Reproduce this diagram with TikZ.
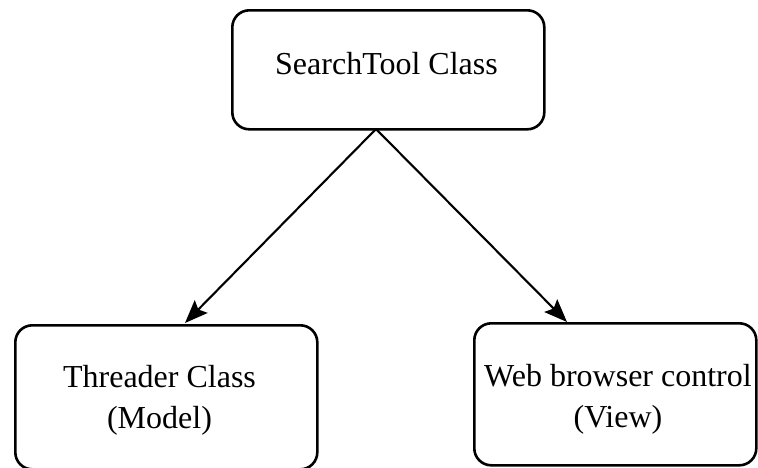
\documentclass[tikz,border=0pt]{standalone}
\usepackage{fontspec}
\setmainfont{Liberation Serif}
\usetikzlibrary{arrows.meta}
\begin{document}
\begin{tikzpicture}[x=1pt,y=-1pt,
  boxnode/.style={draw=black, line width=2.6pt, rounded corners=17pt,
    inner sep=0pt, anchor=north west},
  txt/.style={align=center, font={\fontsize{32}{41}\selectfont}, inner sep=0pt},
  conn/.style={draw=black, line width=2.1pt, -{Stealth[length=23pt,width=18pt,inset=4pt]}}]
\useasboundingbox (0,0) rectangle (758,467);
\node[boxnode, minimum width=312pt, minimum height=119pt] (top) at (231,9) {};
\node[boxnode, minimum width=302pt, minimum height=144pt] (left) at (14,324) {};
\node[boxnode, minimum width=282pt, minimum height=142pt] (right) at (473,322) {};
\node[txt] (toptext) at (386.5,64) {SearchTool Class};
\node[txt] (lefttext) at (159.5,400) {Threader Class\\(Model)};
\node[txt] (righttext) at (618,399) {Web browser control\\(View)};
\coordinate (s) at (376,129);
\coordinate (lt) at (185,323);
\coordinate (rt) at (567,322);
\draw[conn] (s) -- (lt);
\draw[conn] (s) -- (rt);
\end{tikzpicture}
\end{document}
